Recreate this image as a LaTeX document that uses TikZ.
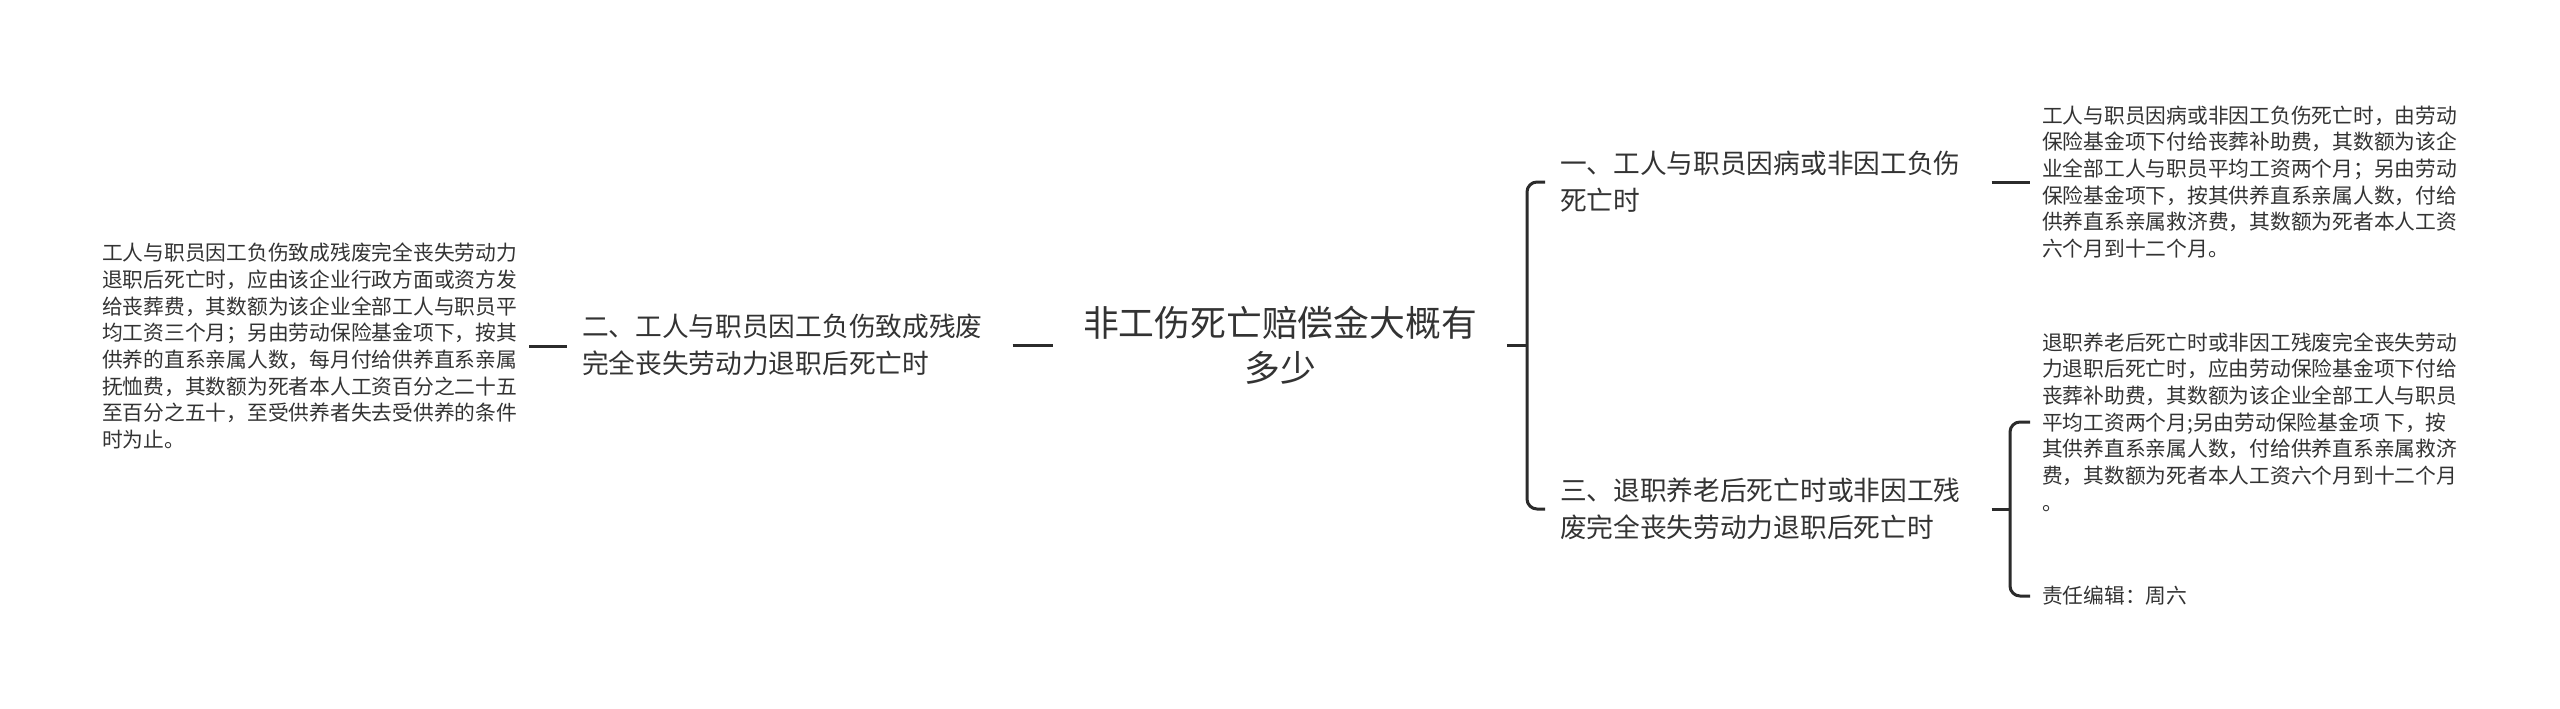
\documentclass[tikz,border=0pt]{standalone}
\usepackage{fontspec}
\setmainfont{Noto Sans CJK SC}
\definecolor{ink}{HTML}{333333}
\definecolor{wire}{HTML}{2B2B2B}
\begin{document}
\begin{tikzpicture}[x=1pt,y=-1pt,
  every node/.style={inner sep=0pt, outer sep=0pt, text=ink},
  detail/.style={anchor=west, align=left, font=\fontsize{20.75pt}{26.7pt}\selectfont},
  topic/.style={anchor=west, align=left, font=\fontsize{26.7pt}{37pt}\selectfont},
  root/.style={align=center, font=\fontsize{35.8pt}{45pt}\selectfont},
  link/.style={draw=wire, line width=3pt},
  ]
\useasboundingbox[fill=white] (0,0) rectangle (2560,709);
\node[root] (c) at (1280,345) {非工伤死亡赔偿金大概有\\多少};
\node[topic] (n2) at (582,345) {二、工人与职员因工负伤致成残废\\完全丧失劳动力退职后死亡时};
\node[detail] (L) at (102,346) {工人与职员因工负伤致成残废完全丧失劳动力\\退职后死亡时，应由该企业行政方面或资方发\\给丧葬费，其数额为该企业全部工人与职员平\\均工资三个月；另由劳动保险基金项下，按其\\供养的直系亲属人数，每月付给供养直系亲属\\抚恤费，其数额为死者本人工资百分之二十五\\至百分之五十，至受供养者失去受供养的条件\\时为止。};
\node[topic] (n1) at (1560,182) {一、工人与职员因病或非因工负伤\\死亡时};
\node[topic] (n3) at (1560,509) {三、退职养老后死亡时或非因工残\\废完全丧失劳动力退职后死亡时};
\node[detail] (d1) at (2042,182) {工人与职员因病或非因工负伤死亡时，由劳动\\保险基金项下付给丧葬补助费，其数额为该企\\业全部工人与职员平均工资两个月；另由劳动\\保险基金项下，按其供养直系亲属人数，付给\\供养直系亲属救济费，其数额为死者本人工资\\六个月到十二个月。};
\node[detail] (d3) at (2042,422) {退职养老后死亡时或非因工残废完全丧失劳动\\力退职后死亡时，应由劳动保险基金项下付给\\丧葬补助费，其数额为该企业全部工人与职员\\平均工资两个月;另由劳动保险基金项 下，按\\其供养直系亲属人数，付给供养直系亲属救济\\费，其数额为死者本人工资六个月到十二个月\\。};
\node[detail] (ed) at (2042,596) {责任编辑：周六};
\coordinate (b1) at (1527,345);
\coordinate (b2) at (2010,509);
\draw[link, shorten <=12pt, shorten >=15pt] (L.east) -- (L.east -| n2.west);
\draw[link, shorten <=30pt, shorten >=30pt] (n2.east) -- (c.west);
\draw[link, shorten <=30pt] (c.east) -- (b1);
\draw[link, rounded corners=10pt] ([xshift=-15pt]n1.west) -| (b1) |- ([xshift=-15pt]n3.west);
\draw[link, shorten <=31pt, shorten >=12pt] (n1.east) -- (d1.west);
\draw[link, shorten <=31pt] (n3.east) -- (b2);
\draw[link, rounded corners=10pt] ([xshift=-12pt]d3.west) -| (b2) |- ([xshift=-12pt]ed.west);
\end{tikzpicture}
\end{document}
